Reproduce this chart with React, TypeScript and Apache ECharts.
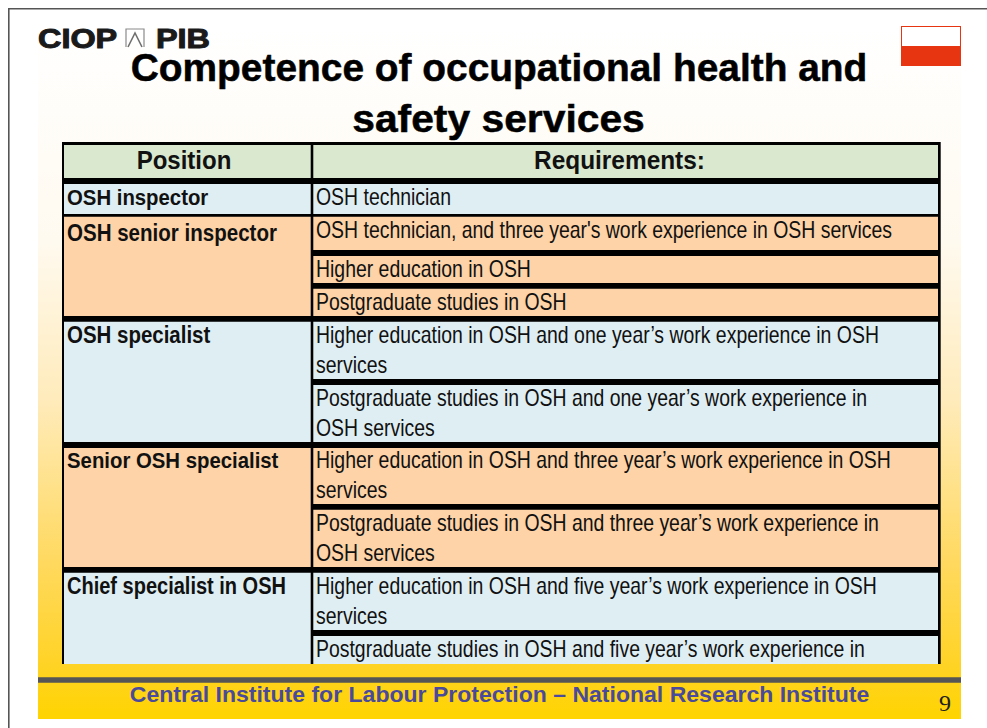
import React, { useEffect, useRef } from "react";
import * as echarts from "echarts";

const titleLines = ["Competence of occupational health and", "safety services"];
const logoText = "CIOP";
const logoText2 = "PIB";
const headers = ["Position", "Requirements:"];
const positions = ["OSH inspector", "OSH senior inspector", "OSH specialist", "Senior OSH specialist", "Chief specialist in OSH"];
const requirementLines = [
  ["OSH technician"],
  ["OSH technician, and three year's work experience in OSH services"],
  ["Higher education in OSH"],
  ["Postgraduate studies in OSH"],
  ["Higher education in OSH and one year’s work experience in OSH", "services"],
  ["Postgraduate studies in OSH and one year’s work experience in", "OSH services"],
  ["Higher education in OSH and three year’s work experience in OSH", "services"],
  ["Postgraduate studies in OSH and three year’s work experience in", "OSH services"],
  ["Higher education in OSH and five year’s work experience in OSH", "services"],
  ["Postgraduate studies in OSH and five year’s work experience in"],
];
const footerText = "Central Institute for Labour Protection – National Research Institute";
const pageNumber = "9";

// layout (kept apart from the content above)
const groupBands = [[184, 214], [216.7, 316], [321.7, 442], [448, 567], [572.7, 664]];
const groupFills = ["#DFEEF3", "#FDD3A7", "#DFEEF3", "#FDD3A7", "#DFEEF3"];
const reqTops = [184, 216.7, 256, 288.7, 321.7, 385, 448, 509.7, 572.7, 636];
const reqBottoms = [214, 250, 283, 316, 379, 442, 504, 567, 630, 664];
const reqTextY = [197, 230, 269, 302, 335, 398, 460, 523, 586, 649];
const posTextY = [197, 233, 335, 460, 586];
const reqGroup = [0, 1, 1, 1, 2, 2, 3, 3, 4, 4];
const posScale = [0.885, 0.893, 0.89, 0.885, 0.87];

const BODY = 23;
const BODY_SX = 0.845;
const SANS = "'Liberation Sans', Arial, sans-serif";

export default function App() {
  const ref = useRef<HTMLDivElement>(null);
  useEffect(() => {
    document.body.style.margin = "0";
    const chart = echarts.init(ref.current!, undefined, { renderer: "svg" });
    const el: any[] = [];
    const rect = (x: number, y: number, w: number, h: number, fill: any) =>
      el.push({ type: "rect", shape: { x, y, width: w, height: h }, style: { fill } });
    const text = (t: string, x: number, y: number, size: number, weight: string, fill: string, sx = 1, align = "left", family = SANS, stroke?: string, lw = 0) =>
      el.push({
        type: "text", x, y, scaleX: sx, originX: 0, originY: 0,
        style: { text: t, fontSize: size, fontWeight: weight, fontFamily: family, fill, textAlign: align, textVerticalAlign: "middle", stroke, lineWidth: lw },
      });
    const poly = (points: number[][], color: string, w: number) =>
      el.push({ type: "polyline", shape: { points }, style: { fill: "none", stroke: color, lineWidth: w } });

    // page frame
    rect(8, 8, 979, 1.6, "#555555");
    rect(8, 8, 1.6, 720, "#555555");
    // slide background
    rect(38, 28, 923, 691, {
      type: "linear", x: 0, y: 0, x2: 0, y2: 1,
      colorStops: [
        { offset: 0, color: "#FFFFFF" },
        { offset: 0.307, color: "#FFFAF0" },
        { offset: 0.538, color: "#FFEBBB" },
        { offset: 0.77, color: "#FFD960" },
        { offset: 0.92, color: "#FFD326" },
        { offset: 1, color: "#FFD400" },
      ],
    });
    // logo
    text(logoText, 38, 38, 27, "bold", "#1A1A1A", 1.2, "left", SANS, "#1A1A1A", 1);
    text(logoText2, 156, 38, 27, "bold", "#1A1A1A", 1.2, "left", SANS, "#1A1A1A", 1);
    poly([[126, 47], [126, 29], [144, 29], [144, 47]], "#8A8A8A", 1.2);
    poly([[128, 47], [135, 33], [142, 47]], "#707070", 1.6);
    // flag
    rect(901, 26, 60, 40, "#E73512");
    rect(902, 27, 58, 19, "#FFFFFF");
    // title
    text(titleLines[0], 499, 68, 38.5, "bold", "#000000", 1.01, "center", SANS, "#000000", 0.5);
    text(titleLines[1], 498.5, 118, 38.5, "bold", "#000000", 1.06, "center", SANS, "#000000", 0.5);

    // table: black base, coloured cells on top
    rect(62, 142, 878.7, 522, "#000000");
    rect(64, 145, 246.7, 33, "#D9E8CE");
    rect(313.3, 145, 624.7, 33, "#D9E8CE");
    groupBands.forEach((b, i) => rect(64, b[0], 246.7, b[1] - b[0], groupFills[i]));
    reqTops.forEach((t, i) => rect(313.3, t, 624.7, reqBottoms[i] - t, groupFills[reqGroup[i]]));

    text(headers[0], 184, 160, 25, "bold", "#111111", 0.96, "center");
    text(headers[1], 619.5, 160, 25, "bold", "#111111", 0.977, "center");
    positions.forEach((p, i) => text(p, 67, posTextY[i], BODY, "bold", "#111111", posScale[i]));
    requirementLines.forEach((lines, i) =>
      lines.forEach((l, j) => text(l, 316, reqTextY[i] + j * 30, BODY, "normal", "#111111", BODY_SX))
    );

    // footer
    rect(38, 677.3, 923, 5.4, "#555555");
    text(footerText, 499.5, 695, 22, "bold", "#4A4A9C", 1.047, "center");
    text(pageNumber, 945, 703, 24, "normal", "#222222", 1, "center", "'Liberation Serif', serif");

    chart.setOption({ animation: false, graphic: { elements: el } });
    return () => chart.dispose();
  }, []);
  return <div ref={ref} style={{ width: 987, height: 728, background: "#FFFFFF" }} />;
}
